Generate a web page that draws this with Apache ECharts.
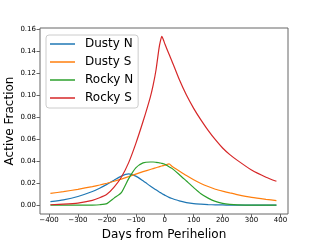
<!DOCTYPE html>
<html><head><meta charset="utf-8">
<script src="https://cdn.jsdelivr.net/npm/echarts@6/dist/echarts.min.js"></script>
<style>html,body{margin:0;padding:0;background:#fff}#c{width:320px;height:240px}</style>
</head><body><div id="c"></div>
<script>
var days = [-395,-350,-300,-250,-225,-200,-175,-150,-125,-100,-75,-50,-40,-30,-20,-15,-10,-5,0,15,25,50,75,100,125,150,175,200,225,250,300,350,386];
var dustyN = [0.0033,0.0050,0.0080,0.0125,0.0155,0.0190,0.0228,0.0265,0.0285,0.0265,0.0222,0.0175,0.0157,0.0140,0.0123,0.0115,0.0107,0.0099,0.0092,0.0072,0.0062,0.0040,0.0025,0.0015,0.0010,0.0006,0.0004,0.0003,0.0002,0.0002,0.0001,0.0001,0.0001];
var dustyS = [0.0108,0.0124,0.0145,0.0170,0.0184,0.0200,0.0218,0.0238,0.0260,0.0283,0.0305,0.0325,0.0333,0.0341,0.0349,0.0353,0.0357,0.0360,0.0363,0.0375,0.0355,0.0312,0.0270,0.0232,0.0198,0.0170,0.0146,0.0128,0.0112,0.0097,0.0072,0.0054,0.0043];
var rockyN = [0.0001,0.0001,0.0001,0.0002,0.0005,0.0015,0.0065,0.0115,0.0240,0.0340,0.0385,0.0393,0.0393,0.0390,0.0386,0.0384,0.0381,0.0377,0.0373,0.0350,0.0335,0.0280,0.0220,0.0160,0.0105,0.0065,0.0035,0.0018,0.0009,0.0004,0.0002,0.0001,0.0001];
var rockyS = [0.0005,0.0010,0.0020,0.0045,0.0068,0.0100,0.0165,0.0255,0.0385,0.0560,0.0760,0.0980,0.1090,0.1230,0.1420,0.1490,0.1533,0.1505,0.1468,0.1370,0.1308,0.1143,0.1000,0.0880,0.0775,0.0680,0.0595,0.0520,0.0460,0.0410,0.0320,0.0255,0.0218];
var names = ['Dusty N','Dusty S','Rocky N','Rocky S'];
var colors = ['#1f77b4','#ff7f0e','#2ca02c','#d62728'];
var xTicks = [-400,-300,-200,-100,0,100,200,300,400];
var yTicks = [0,0.02,0.04,0.06,0.08,0.10,0.12,0.14,0.16];

function pairs(ys){ return days.map(function(d,i){ return [d, ys[i]]; }); }
var seriesData = [dustyN, dustyS, rockyN, rockyS];
var font = 'DejaVu Sans';
var chart = echarts.init(document.getElementById('c'), null, {renderer:'canvas'});
chart.setOption({
  animation:false,
  grid:{left:40,right:32,top:28,bottom:26,show:true,borderColor:'#666',borderWidth:1,backgroundColor:'transparent',
    outerBoundsMode:'none',containLabel:false},
  xAxis:{type:'value',min:-431,max:426,
    name:'Days from Perihelion',nameLocation:'middle',nameGap:15,
    nameTextStyle:{fontFamily:font,fontSize:12,color:'#000'},
    axisLine:{show:false,onZero:false},splitLine:{show:false},
    axisTick:{show:true,length:3.5,inside:false,customValues:xTicks,lineStyle:{color:'#666'}},
    axisLabel:{customValues:xTicks,fontFamily:font,fontSize:7,color:'#000',margin:3,
      formatter:function(v){return v<0?'\u2212'+Math.abs(v):String(v);}}},
  yAxis:{type:'value',min:-0.0079,max:0.1609,
    name:'Active Fraction',nameLocation:'middle',nameGap:24,nameMoveOverlap:false,
    nameTextStyle:{fontFamily:font,fontSize:12,color:'#000'},
    axisLine:{show:false,onZero:false},splitLine:{show:false},
    axisTick:{show:true,length:3.5,inside:false,customValues:yTicks,lineStyle:{color:'#666'}},
    axisLabel:{customValues:yTicks,fontFamily:font,fontSize:7,color:'#000',margin:4,
      formatter:function(v){return v.toFixed(2);}}},
  legend:{left:46,top:35,orient:'vertical',data:names,icon:'rect',itemWidth:25,itemHeight:1.5,itemGap:6,
    padding:[3,5,4,4],borderColor:'#ccc',borderWidth:1,borderRadius:3,backgroundColor:'rgba(255,255,255,0.8)',
    textStyle:{fontFamily:font,fontSize:12,color:'#000',lineHeight:12,padding:[0,0,0,5]}},
  series:names.map(function(n,i){
    return {name:n,type:'line',data:pairs(seriesData[i]),showSymbol:false,smooth:0.2,
      color:colors[i],lineStyle:{width:1.2,color:colors[i]}};
  })
});
</script></body></html>
